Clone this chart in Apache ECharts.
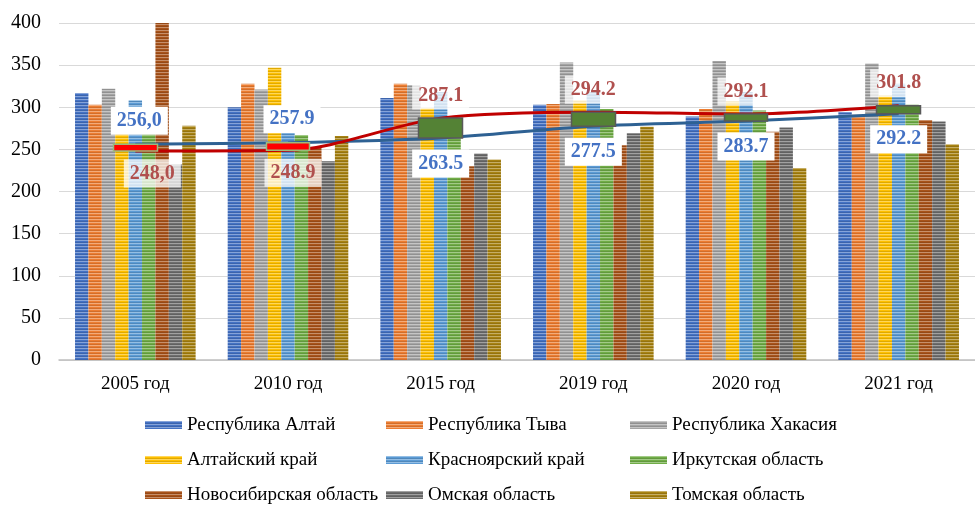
<!DOCTYPE html>
<html><head><meta charset="utf-8">
<script src="https://cdn.jsdelivr.net/npm/echarts@6/dist/echarts.min.js"></script>
<style>html,body{margin:0;padding:0;background:#fff}#c{width:975px;height:505px}</style>
</head><body><div id="c"></div>
<script>
const categories = ['2005 год','2010 год','2015 год','2019 год','2020 год','2021 год'];
const seriesNames = ['Республика Алтай','Республика Тыва','Республика Хакасия','Алтайский край','Красноярский край','Иркутская область','Новосибирская область','Омская область','Томская область'];
const altai       = [317, 300, 311, 303, 289, 294];
const tyva        = [303, 328, 328, 304, 298, 291];
const khakasia    = [322, 321, 326, 353, 355, 352];
const altaiKrai   = [280, 347, 299, 308, 307, 314];
const krasnoyarsk = [308, 280, 318, 318, 318, 328];
const irkutsk     = [275, 267, 275, 298, 296, 303];
const novosib     = [401, 252, 230, 255, 271, 285];
const omsk        = [232, 236, 245, 269, 276, 283];
const tomsk       = [278, 266, 238, 277, 228, 256];
const blueLine    = [256.0, 257.9, 263.5, 277.5, 283.7, 292.2];
const redLine     = [248.0, 248.9, 287.1, 294.2, 292.1, 301.8];
const blueLabels  = ['256,0','257.9','263.5','277.5','283.7','292.2'];
const redLabels   = ['248,0','248.9','287.1','294.2','292.1','301.8'];
const yTicks = {min: 0, max: 400, interval: 50};

const barValues = [altai, tyva, khakasia, altaiKrai, krasnoyarsk, irkutsk, novosib, omsk, tomsk];
const colors = ['#4472c4','#ed7d31','#a5a5a5','#ffc000','#5b9bd5','#70ad47','#a9531a','#6e6e6e','#a88312'];

function mix(hex, t, target) {
  const n = parseInt(hex.slice(1), 16);
  const r = (n >> 16) & 255, g = (n >> 8) & 255, b = n & 255;
  const f = c => Math.round(c + (target - c) * t);
  return 'rgb(' + f(r) + ',' + f(g) + ',' + f(b) + ')';
}
function stripes(hex) {
  const cv = document.createElement('canvas');
  cv.width = 8; cv.height = 3;
  const ctx = cv.getContext('2d');
  ctx.fillStyle = hex; ctx.fillRect(0, 0, 8, 3);
  ctx.fillStyle = mix(hex, 0.35, 255); ctx.fillRect(0, 0, 8, 1);
  ctx.fillStyle = mix(hex, 0.12, 0); ctx.fillRect(0, 2, 8, 1);
  return {image: cv, repeat: 'repeat'};
}

const FONT = 'Liberation Serif';
const series = [];
barValues.forEach((vals, i) => {
  series.push({
    name: seriesNames[i], type: 'bar', data: vals, z: 2,
    barGap: '0%', barCategoryGap: '21%',
    itemStyle: {color: stripes(colors[i])}
  });
});

const labelBase = {show: true, fontFamily: FONT, fontWeight: 'bold', fontSize: 20, padding: [4, 6]};
series.push({
  name: 'blue', type: 'line', data: blueLine.map((v, i) => ({
    value: v,
    label: {position: i < 2 ? 'top' : 'bottom', distance: i < 2 ? 9 : 11, offset: i < 2 ? [4, 0] : [0, 0]}
  })),
  smooth: 0.3, symbol: 'circle', symbolSize: 1, showSymbol: true, z: 3,
  lineStyle: {color: '#2e6193', width: 3}, itemStyle: {color: 'rgba(0,0,0,0)'},
  label: Object.assign({}, labelBase, {color: '#4472c4', backgroundColor: '#ffffff',
    formatter: p => blueLabels[p.dataIndex]})
});
series.push({
  name: 'red', type: 'line', data: redLine.map((v, i) => ({
    value: v,
    label: {position: i < 2 ? 'bottom' : 'top', distance: 8, offset: i === 0 ? [17, 0] : (i === 1 ? [5, 0] : [0, 0])}
  })),
  smooth: 0.3, symbol: 'circle', symbolSize: 1, showSymbol: true, z: 3,
  lineStyle: {color: '#c00000', width: 3}, itemStyle: {color: 'rgba(0,0,0,0)'},
  label: Object.assign({}, labelBase, {color: '#b0504e', backgroundColor: 'rgba(255,255,255,0.75)',
    formatter: p => redLabels[p.dataIndex]})
});
series.push({
  name: 'updown', type: 'candlestick', z: 4, barWidth: 44,
  data: blueLine.map((b, i) => [b, redLine[i], Math.min(b, redLine[i]), Math.max(b, redLine[i])]),
  itemStyle: {color: '#548235', color0: '#ff0000', borderColor: '#595959', borderColor0: '#9bbb7a', borderWidth: 1.5}
});

const legendCommon = {
  orient: 'vertical', top: 415, icon: 'rect', itemWidth: 37, itemHeight: 8, itemGap: 15,
  itemTextGap: 2, selectedMode: false, padding: 0, height: 90,
  textStyle: {fontFamily: FONT, fontSize: 19, color: '#000', lineHeight: 20}
};

const chart = echarts.init(document.getElementById('c'), null, {renderer: 'canvas'});
chart.setOption({
  animation: false,
  grid: {left: 59, right: -13, top: 23, bottom: 145, containLabel: false},
  legend: [
    Object.assign({}, legendCommon, {left: 145, data: [seriesNames[0], seriesNames[3], seriesNames[6]]}),
    Object.assign({}, legendCommon, {left: 386, data: [seriesNames[1], seriesNames[4], seriesNames[7]]}),
    Object.assign({}, legendCommon, {left: 630, data: [seriesNames[2], seriesNames[5], seriesNames[8]]})
  ],
  xAxis: {
    type: 'category', data: categories,
    axisLine: {lineStyle: {color: '#bfbfbf', width: 1.5}},
    axisTick: {show: false},
    axisLabel: {fontFamily: FONT, fontSize: 19, color: '#000', margin: 15}
  },
  yAxis: {
    type: 'value', min: yTicks.min, max: yTicks.max, interval: yTicks.interval,
    axisLine: {show: false}, axisTick: {show: false},
    splitLine: {lineStyle: {color: '#d9d9d9', width: 1}},
    axisLabel: {fontFamily: FONT, fontSize: 20, color: '#000', margin: 18}
  },
  series: series
});
</script></body></html>
